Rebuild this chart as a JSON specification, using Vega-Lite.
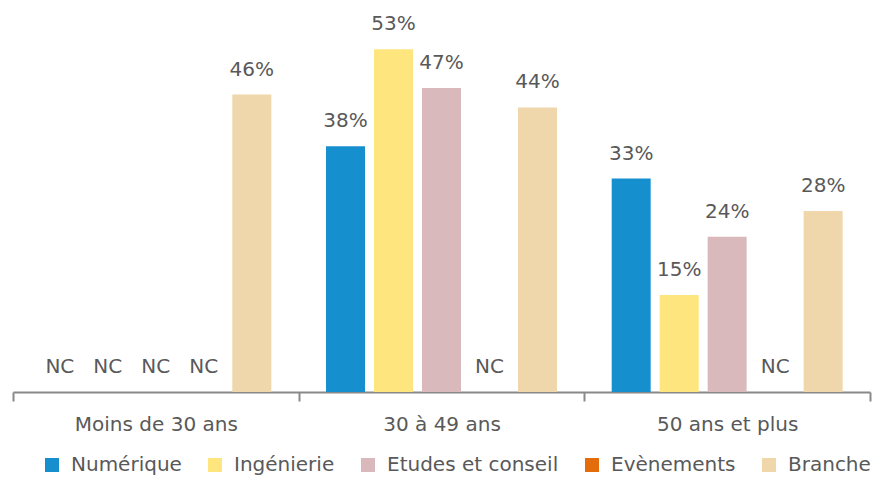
{
  "$schema": "https://vega.github.io/schema/vega-lite/v6.json",
  "width": 857,
  "height": 388,
  "autosize": "none",
  "padding": {"left": 13, "top": 4, "right": 5, "bottom": 88},
  "background": "white",
  "config": {"view": {"stroke": null}, "font": "DejaVu Sans"},
  "data": {"values": [
    {"g": "Moins de 30 ans", "s": "Numérique", "v": null, "lab": "NC"},
    {"g": "Moins de 30 ans", "s": "Ingénierie", "v": null, "lab": "NC"},
    {"g": "Moins de 30 ans", "s": "Etudes et conseil", "v": null, "lab": "NC"},
    {"g": "Moins de 30 ans", "s": "Evènements", "v": null, "lab": "NC"},
    {"g": "Moins de 30 ans", "s": "Branche", "v": 46, "lab": "46%"},
    {"g": "30 à 49 ans", "s": "Numérique", "v": 38, "lab": "38%"},
    {"g": "30 à 49 ans", "s": "Ingénierie", "v": 53, "lab": "53%"},
    {"g": "30 à 49 ans", "s": "Etudes et conseil", "v": 47, "lab": "47%"},
    {"g": "30 à 49 ans", "s": "Evènements", "v": null, "lab": "NC"},
    {"g": "30 à 49 ans", "s": "Branche", "v": 44, "lab": "44%"},
    {"g": "50 ans et plus", "s": "Numérique", "v": 33, "lab": "33%"},
    {"g": "50 ans et plus", "s": "Ingénierie", "v": 15, "lab": "15%"},
    {"g": "50 ans et plus", "s": "Etudes et conseil", "v": 24, "lab": "24%"},
    {"g": "50 ans et plus", "s": "Evènements", "v": null, "lab": "NC"},
    {"g": "50 ans et plus", "s": "Branche", "v": 28, "lab": "28%"}
  ]},
  "encoding": {
    "x": {"field": "g", "type": "nominal",
      "scale": {"domain": ["Moins de 30 ans", "30 à 49 ans", "50 ans et plus"], "paddingInner": 0, "paddingOuter": 0},
      "axis": {"title": null, "labelAngle": 0, "labelFontSize": 20, "labelColor": "#595959",
        "labelPadding": 13, "domainColor": "#898989", "domainWidth": 2, "tickColor": "#898989",
        "tickWidth": 2, "tickSize": 9, "tickBand": "extent", "labelFont": "DejaVu Sans"}},
    "xOffset": {"field": "s", "type": "nominal",
      "scale": {"domain": ["Numérique", "Ingénierie", "Etudes et conseil", "Evènements", "Branche"],
        "paddingInner": 0.1875, "paddingOuter": 0.57}}
  },
  "layer": [
    {
      "mark": {"type": "bar"},
      "transform": [{"filter": "datum.v != null"}],
      "encoding": {
        "y": {"field": "v", "type": "quantitative", "scale": {"domain": [0, 60]}, "axis": null},
        "color": {"field": "s", "type": "nominal",
          "scale": {"domain": ["Numérique", "Ingénierie", "Etudes et conseil", "Evènements", "Branche"],
            "range": ["#168FCF", "#FFE57E", "#D9B9BC", "#E46C0A", "#F0D6AB"]},
          "legend": {"title": null, "orient": "none", "legendX": 29, "legendY": 451, "direction": "horizontal",
            "symbolType": "square", "symbolSize": 196, "symbolStrokeWidth": 0, "labelFontSize": 20,
            "labelColor": "#595959", "labelFont": "DejaVu Sans", "labelLimit": 0, "columnPadding": 23, "labelOffset": 9}}
      }
    },
    {
      "mark": {"type": "text", "fontSize": 20, "color": "#595959", "baseline": "alphabetic", "dy": -19},
      "transform": [{"filter": "datum.v != null"}],
      "encoding": {
        "y": {"field": "v", "type": "quantitative"},
        "text": {"field": "lab"}
      }
    },
    {
      "mark": {"type": "text", "fontSize": 20, "color": "#595959", "baseline": "alphabetic", "dy": -19},
      "transform": [{"filter": "datum.v == null"}],
      "encoding": {
        "y": {"datum": 0, "type": "quantitative"},
        "text": {"field": "lab"}
      }
    }
  ]
}
